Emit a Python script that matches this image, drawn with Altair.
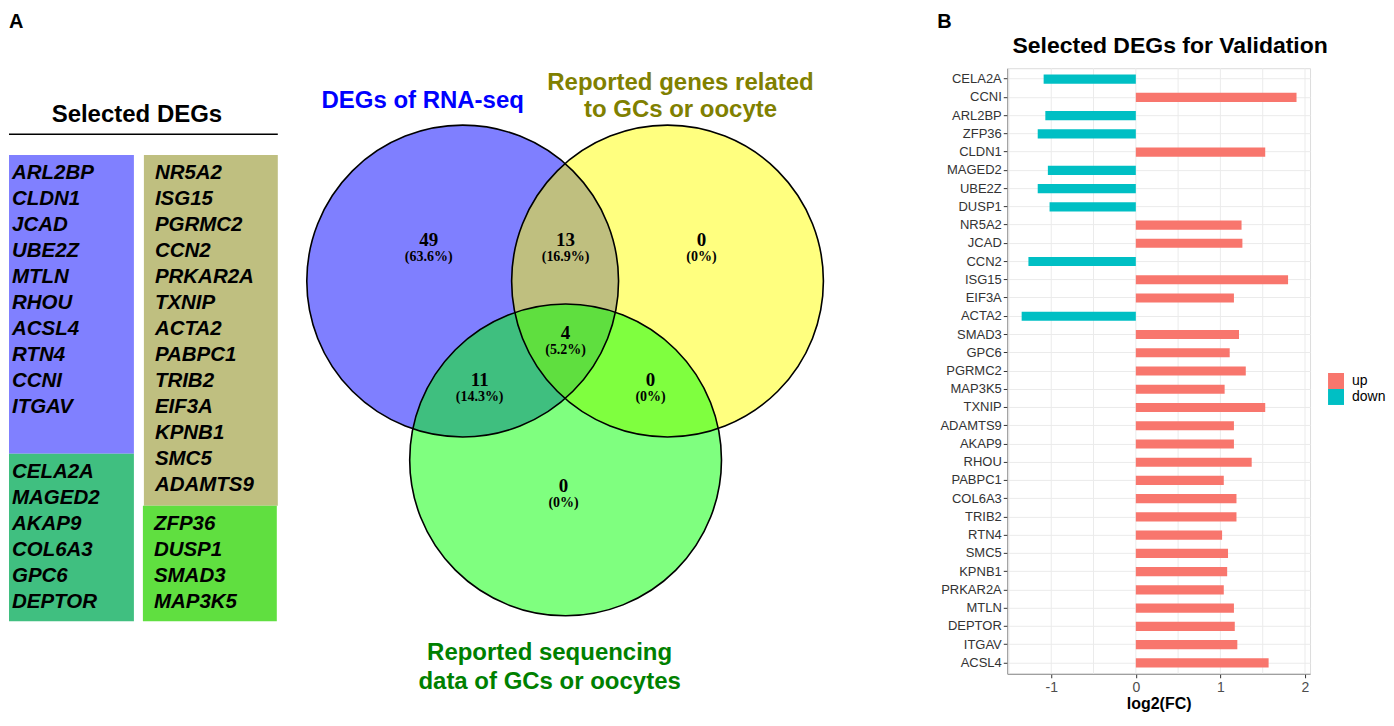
import altair as alt
import pandas as pd

# ---------------- data ----------------
bar_genes = ["CELA2A", "CCNI", "ARL2BP", "ZFP36", "CLDN1", "MAGED2", "UBE2Z", "DUSP1",
             "NR5A2", "JCAD", "CCN2", "ISG15", "EIF3A", "ACTA2", "SMAD3", "GPC6",
             "PGRMC2", "MAP3K5", "TXNIP", "ADAMTS9", "AKAP9", "RHOU", "PABPC1", "COL6A3",
             "TRIB2", "RTN4", "SMC5", "KPNB1", "PRKAR2A", "MTLN", "DEPTOR", "ITGAV", "ACSL4"]
log2fc = [-1.09, 1.90, -1.07, -1.16, 1.53, -1.04, -1.16, -1.02,
          1.25, 1.26, -1.27, 1.80, 1.16, -1.35, 1.22, 1.11,
          1.30, 1.05, 1.53, 1.16, 1.16, 1.37, 1.04, 1.19,
          1.19, 1.02, 1.09, 1.08, 1.04, 1.16, 1.17, 1.20, 1.57]
x_ticks = [-1, 0, 1, 2]
x_grid = [-1.5, -1, -0.5, 0, 0.5, 1, 1.5, 2]
x_domain = [-1.52, 2.06]
dir_levels = ["up", "down"]
dir_colors = ["#F8766D", "#00BFC4"]

genes_deg_only = ["ARL2BP", "CLDN1", "JCAD", "UBE2Z", "MTLN", "RHOU", "ACSL4", "RTN4", "CCNI", "ITGAV"]
genes_deg_seq = ["CELA2A", "MAGED2", "AKAP9", "COL6A3", "GPC6", "DEPTOR"]
genes_deg_rep = ["NR5A2", "ISG15", "PGRMC2", "CCN2", "PRKAR2A", "TXNIP", "ACTA2", "PABPC1",
                 "TRIB2", "EIF3A", "KPNB1", "SMC5", "ADAMTS9"]
genes_all_three = ["ZFP36", "DUSP1", "SMAD3", "MAP3K5"]

set_labels = [["DEGs of RNA-seq"],
              ["Reported genes related", "to GCs or oocyte"],
              ["Reported sequencing", "data of GCs or oocytes"]]
# regions: RNA-seq only, RNA∩reported, reported only, RNA∩seq, all three, reported∩seq, seq only
region_counts = [49, 13, 0, 11, 4, 0, 0]

# ---------------- layout / style ----------------
FONT = "Liberation Sans"
SERIF = "Liberation Serif"
OX, OY = 8, 8
LW, LH = 920, 702
RX = 1007              # page x of the bar plot's left edge
RW, RH, TOPH = 303, 606, 60

xs = alt.Scale(domain=[OX, OX + LW], nice=False, zero=False)
ys = alt.Scale(domain=[OY, OY + LH], nice=False, zero=False, reverse=True)


def PX(f="x"):
    return alt.X(f"{f}:Q", scale=xs, axis=None)


def PY(f="y"):
    return alt.Y(f"{f}:Q", scale=ys, axis=None)


# gene table
ROW0, ROWH = 173, 26
table_groups = [
    (genes_deg_only, 11, 0.0, 8, 133, -0.7, 10.8, "#8080FF"),
    (genes_deg_seq, 11, 11.5, 8, 133, 10.8, 17.25, "#40BF80"),
    (genes_deg_rep, 154, 0.0, 143, 277, -0.7, 12.8, "#BFBF80"),
    (genes_all_three, 153, 13.5, 142, 276, 12.8, 17.25, "#60DF40"),
]
box_rows, gene_rows = [], []
for genes, tx, start, bx0, bx1, r0, r1, fill in table_groups:
    box_rows.append({"x": bx0, "x2": bx1, "y": ROW0 + ROWH * r0, "y2": ROW0 + ROWH * r1, "fill": fill})
    for i, g in enumerate(genes):
        gene_rows.append({"x": tx, "y": ROW0 + ROWH * (start + i), "t": g})
box_df = pd.DataFrame(box_rows)
gene_df = pd.DataFrame(gene_rows)

boxes = alt.Chart(box_df).mark_rect().encode(
    x=PX("x"), x2="x2:Q", y=PY("y"), y2="y2:Q", color=alt.Color("fill:N", scale=None))
gene_text = alt.Chart(gene_df).mark_text(
    font=FONT, fontSize=20.5, fontWeight="bold", fontStyle="italic",
    align="left", baseline="middle", color="black").encode(x=PX(), y=PY(), text="t:N")

table_title = alt.Chart(pd.DataFrame({"x": [136], "y": [122], "t": ["Selected DEGs"]})).mark_text(
    font=FONT, fontSize=24, fontWeight="bold", align="center", baseline="alphabetic",
    color="black").encode(x=PX(), y=PY(), text="t:N")
underline = alt.Chart(pd.DataFrame({"x": [8], "x2": [277], "y": [134]})).mark_rule(
    color="black", strokeWidth=1.5).encode(x=PX(), x2="x2:Q", y=PY())

panel_a = alt.Chart(pd.DataFrame({"x": [8], "y": [28], "t": ["A"]})).mark_text(
    font=FONT, fontSize=20, fontWeight="bold", align="left", baseline="alphabetic",
    color="black").encode(x=PX(), y=PY(), text="t:N")

# Venn diagram
R = 156
circle_df = pd.DataFrame({"x": [462, 667, 565], "y": [281, 281, 460],
                          "fill": ["#0000FF", "#FFFF00", "#00FF00"]})
circle_fill = alt.Chart(circle_df).mark_point(
    shape="circle", filled=True, fillOpacity=0.5, opacity=1, strokeWidth=0,
    size=(2 * R) ** 2).encode(x=PX(), y=PY(), fill=alt.Fill("fill:N", scale=None))
circle_line = alt.Chart(circle_df).mark_point(
    shape="circle", filled=False, opacity=1, color="black", stroke="black",
    strokeWidth=1.6, size=(2 * R) ** 2).encode(x=PX(), y=PY())

total = sum(region_counts)
reg_x = [428, 565, 701, 479, 565, 650, 563]
reg_y = [240, 240, 240, 380, 333, 380, 486]
num_df = pd.DataFrame({"x": reg_x, "y": reg_y, "t": [str(c) for c in region_counts]})
pct_df = pd.DataFrame({"x": reg_x, "y": [v + 17 for v in reg_y],
                       "t": ["(0%)" if c == 0 else f"({100 * c / total:.1f}%)" for c in region_counts]})
num_text = alt.Chart(num_df).mark_text(
    font=SERIF, fontSize=19, fontWeight="bold", align="center", baseline="middle",
    color="black").encode(x=PX(), y=PY(), text="t:N")
pct_text = alt.Chart(pct_df).mark_text(
    font=SERIF, fontSize=14, fontWeight="bold", align="center", baseline="middle",
    color="black").encode(x=PX(), y=PY(), text="t:N")

set_pos = [(422, [101]), (680, [83, 110]), (549, [653, 682])]
set_cols = ["#0000FF", "#808000", "#008000"]
set_rows = []
for (sx, sys_), lines, col in zip(set_pos, set_labels, set_cols):
    for yy, line in zip(sys_, lines):
        set_rows.append({"x": sx, "y": yy, "t": line, "c": col})
set_text = alt.Chart(pd.DataFrame(set_rows)).mark_text(
    font=FONT, fontSize=24, fontWeight="bold", align="center", baseline="middle").encode(
    x=PX(), y=PY(), text="t:N", color=alt.Color("c:N", scale=None))

left = alt.layer(boxes, gene_text, table_title, underline, panel_a,
                 set_text, circle_fill, circle_line, num_text, pct_text).properties(
    width=LW, height=LH, view=alt.ViewBackground(strokeWidth=0))

# ---------------- bar chart ----------------
bar_df = pd.DataFrame({"gene": bar_genes, "fc": log2fc,
                       "dir": ["up" if v > 0 else "down" for v in log2fc]})
xq = alt.Scale(domain=x_domain, nice=False, zero=False)
x_axis = alt.Axis(values=x_ticks, grid=False, title="log2(FC)", domainColor="#8c8c8c",
                  tickColor="#333333", tickSize=4, labelPadding=3, labelFont=FONT,
                  labelExpr="'' + datum.value",
                  labelFontSize=14, labelColor="#4d4d4d", titleFont=FONT, titleFontSize=16,
                  titleFontWeight="bold", titleColor="black", titlePadding=1)
y_axis = alt.Axis(title=None, grid=True, gridColor="#ebebeb", gridWidth=1, domainColor="#8c8c8c",
                  tickColor="#333333", tickSize=4, labelPadding=2, labelFont=FONT,
                  labelFontSize=13, labelColor="#333333")
# legend position is given in the whole chart's coordinates
legend = alt.Legend(orient="none", legendX=1328 - OX, legendY=373 - OY, title=None,
                    symbolType="square", symbolSize=256, symbolStrokeWidth=0, labelFont=FONT,
                    labelFontSize=14, labelColor="black", labelOffset=8, rowPadding=0, padding=0)

grid = alt.Chart(pd.DataFrame({"v": x_grid})).mark_rule(color="#ebebeb", strokeWidth=1).encode(
    x=alt.X("v:Q", scale=xq, axis=x_axis))
bars = alt.Chart(bar_df).mark_bar().encode(
    x=alt.X("fc:Q", scale=xq, axis=x_axis),
    x2=alt.datum(0),
    y=alt.Y("gene:N", sort=bar_genes, scale=alt.Scale(paddingInner=0.5, paddingOuter=0.35), axis=y_axis),
    color=alt.Color("dir:N", scale=alt.Scale(domain=dir_levels, range=dir_colors), legend=legend))
barchart = alt.layer(grid, bars).properties(width=RW, height=RH)

head_b = alt.Chart(pd.DataFrame({"t": ["B"]})).mark_text(
    font=FONT, fontSize=20, fontWeight="bold", align="left", baseline="alphabetic",
    color="black").encode(x=alt.value(937 - RX), y=alt.value(28 - OY), text="t:N")
head_title = alt.Chart(pd.DataFrame({"t": ["Selected DEGs for Validation"]})).mark_text(
    font=FONT, fontSize=23, fontWeight="bold", align="center", baseline="alphabetic",
    color="black").encode(x=alt.value(1170 - RX), y=alt.value(53 - OY), text="t:N")
header = alt.layer(head_b, head_title).properties(
    width=RW, height=TOPH, view=alt.ViewBackground(strokeWidth=0))

right = alt.vconcat(header, barchart, spacing=0, bounds="flush")
chart = alt.hconcat(left, right, spacing=RX - OX - LW, bounds="flush", padding=0).configure_view(
    stroke="#dcdcdc", strokeWidth=1)

chart.save("out.html", embed_options={"renderer": "svg", "actions": False})
